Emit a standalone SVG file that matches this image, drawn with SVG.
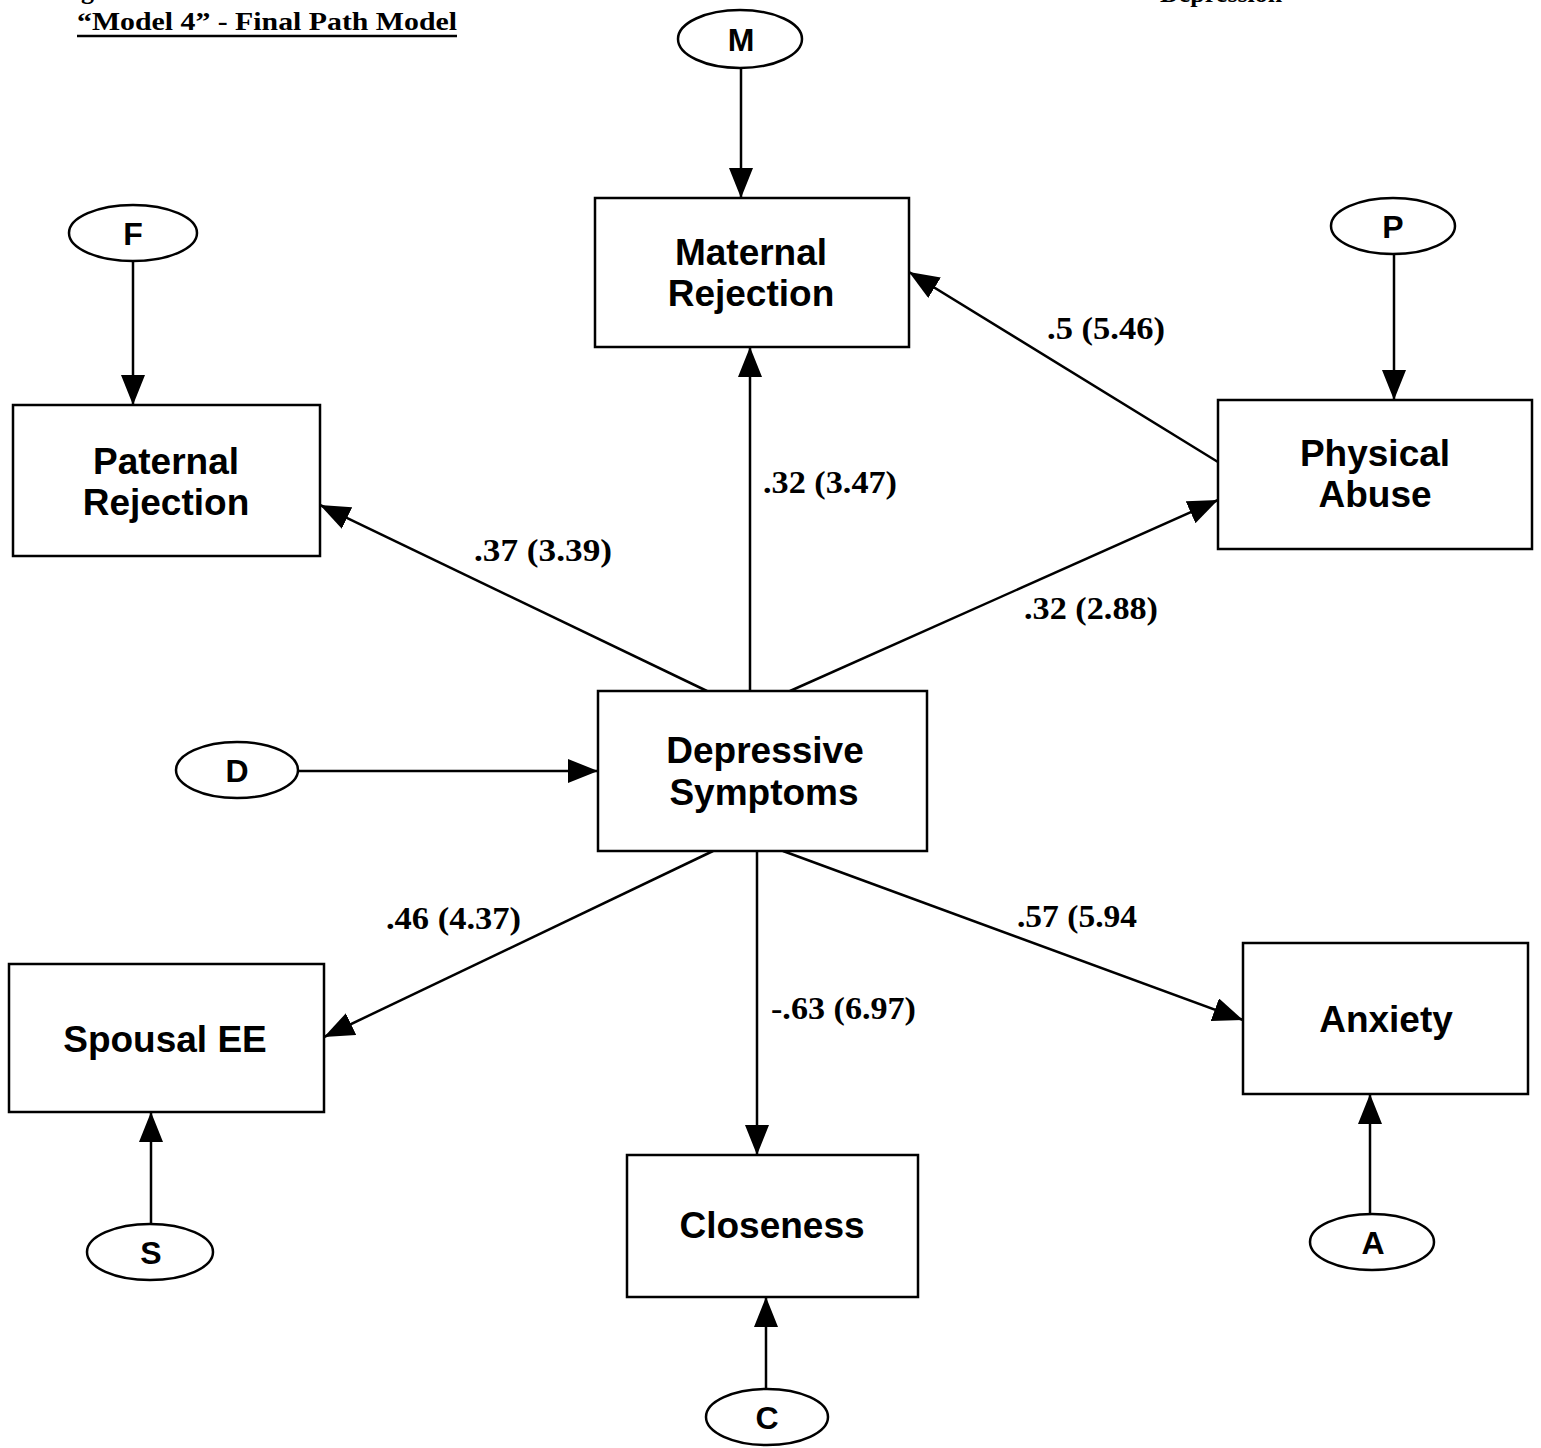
<svg xmlns="http://www.w3.org/2000/svg" width="1541" height="1448" viewBox="0 0 1541 1448">
  <style>
    .box { fill: #fff; stroke: #000; stroke-width: 2.5; }
    .err { fill: #fff; stroke: #000; stroke-width: 2.5; }
    .lbl { font-family: "Liberation Sans", Arial, sans-serif; font-weight: bold; font-size: 37px; text-anchor: middle; fill: #000; }
    .elbl { font-family: "Liberation Sans", Arial, sans-serif; font-weight: bold; font-size: 32px; text-anchor: middle; fill: #000; }
    .coef { font-family: "Liberation Serif", "Times New Roman", serif; font-weight: bold; font-size: 31px; fill: #000; }
    .edge { stroke: #000; stroke-width: 2.5; fill: none; marker-end: url(#head); }
    .head { font-family: "Liberation Serif", "Times New Roman", serif; font-weight: bold; font-size: 26px; fill: #000; }
  </style>
  <defs>
    <marker id="head" markerUnits="userSpaceOnUse" markerWidth="30" markerHeight="24" refX="30" refY="12" orient="auto">
      <path d="M0,0 L30,12 L0,24 z" fill="#000"/>
    </marker>
  </defs>
  <rect x="0" y="0" width="1541" height="1448" fill="#fff"/>

  <!-- heading -->
  <g id="heading">
    <text class="head" x="58" y="-1">Figure</text>
    <text class="head" x="77" y="30" textLength="380" lengthAdjust="spacingAndGlyphs">“Model 4” - Final Path Model</text>
    <line x1="77" y1="36" x2="457" y2="36" stroke="#000" stroke-width="2.5"/>
    <text class="head" x="1160" y="2">Depression</text>
  </g>

  <!-- connectors -->
  <g id="connectors">
    <line class="edge" x1="741" y1="68" x2="741" y2="198"/>
    <line class="edge" x1="133" y1="262" x2="133" y2="405"/>
    <line class="edge" x1="1394" y1="254" x2="1394" y2="400"/>
    <line class="edge" x1="1218" y1="462" x2="909" y2="272"/>
    <line class="edge" x1="750" y1="691" x2="750" y2="347"/>
    <line class="edge" x1="707" y1="691" x2="320" y2="505"/>
    <line class="edge" x1="790" y1="691" x2="1218" y2="500"/>
    <line class="edge" x1="298" y1="771" x2="598" y2="771"/>
    <line class="edge" x1="713" y1="851" x2="324" y2="1037"/>
    <line class="edge" x1="757" y1="851" x2="757" y2="1155"/>
    <line class="edge" x1="783" y1="851" x2="1243" y2="1020"/>
    <line class="edge" x1="151" y1="1224" x2="151" y2="1112"/>
    <line class="edge" x1="766" y1="1389" x2="766" y2="1297"/>
    <line class="edge" x1="1370" y1="1214" x2="1370" y2="1094"/>
    <text class="coef" x="1047" y="339" textLength="118" lengthAdjust="spacingAndGlyphs">.5 (5.46)</text>
    <text class="coef" x="763" y="493" textLength="134" lengthAdjust="spacingAndGlyphs">.32 (3.47)</text>
    <text class="coef" x="474" y="561" textLength="138" lengthAdjust="spacingAndGlyphs">.37 (3.39)</text>
    <text class="coef" x="1024" y="619" textLength="134" lengthAdjust="spacingAndGlyphs">.32 (2.88)</text>
    <text class="coef" x="386" y="929" textLength="135" lengthAdjust="spacingAndGlyphs">.46 (4.37)</text>
    <text class="coef" x="771" y="1019" textLength="145" lengthAdjust="spacingAndGlyphs">-.63 (6.97)</text>
    <text class="coef" x="1017" y="927" textLength="120" lengthAdjust="spacingAndGlyphs">.57 (5.94</text>
  </g>

  <!-- error terms -->
  <g id="M"><ellipse class="err" cx="740" cy="39" rx="62" ry="29"/><text class="elbl" x="741" y="51">M</text></g>
  <g id="F"><ellipse class="err" cx="133" cy="233" rx="64" ry="28"/><text class="elbl" x="133" y="245">F</text></g>
  <g id="P"><ellipse class="err" cx="1393" cy="226" rx="62" ry="28"/><text class="elbl" x="1393" y="238">P</text></g>
  <g id="D"><ellipse class="err" cx="237" cy="770" rx="61" ry="28"/><text class="elbl" x="237" y="782">D</text></g>
  <g id="S"><ellipse class="err" cx="150" cy="1252" rx="63" ry="28"/><text class="elbl" x="151" y="1264">S</text></g>
  <g id="C"><ellipse class="err" cx="767" cy="1417" rx="61" ry="28"/><text class="elbl" x="767" y="1429">C</text></g>
  <g id="A"><ellipse class="err" cx="1372" cy="1242" rx="62" ry="28"/><text class="elbl" x="1373" y="1254">A</text></g>

  <!-- observed variables -->
  <g id="maternal-rejection">
    <rect class="box" x="595" y="198" width="314" height="149"/>
    <text class="lbl" x="751" y="265">Maternal</text>
    <text class="lbl" x="751" y="306">Rejection</text>
  </g>
  <g id="paternal-rejection">
    <rect class="box" x="13" y="405" width="307" height="151"/>
    <text class="lbl" x="166" y="474">Paternal</text>
    <text class="lbl" x="166" y="515">Rejection</text>
  </g>
  <g id="physical-abuse">
    <rect class="box" x="1218" y="400" width="314" height="149"/>
    <text class="lbl" x="1375" y="466">Physical</text>
    <text class="lbl" x="1375" y="507">Abuse</text>
  </g>
  <g id="depressive-symptoms">
    <rect class="box" x="598" y="691" width="329" height="160"/>
    <text class="lbl" x="765" y="763">Depressive</text>
    <text class="lbl" x="764" y="805">Symptoms</text>
  </g>
  <g id="spousal-ee">
    <rect class="box" x="9" y="964" width="315" height="148"/>
    <text class="lbl" x="165" y="1052">Spousal EE</text>
  </g>
  <g id="closeness">
    <rect class="box" x="627" y="1155" width="291" height="142"/>
    <text class="lbl" x="772" y="1238">Closeness</text>
  </g>
  <g id="anxiety">
    <rect class="box" x="1243" y="943" width="285" height="151"/>
    <text class="lbl" x="1386" y="1032">Anxiety</text>
  </g>
</svg>
